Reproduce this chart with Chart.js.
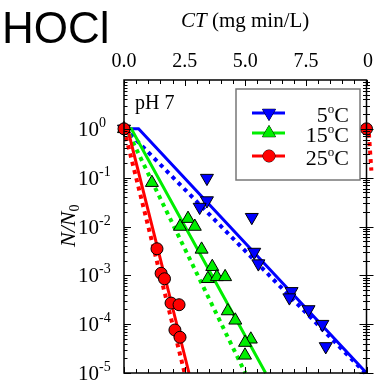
<!DOCTYPE html>
<html>
<head>
<meta charset="utf-8">
<script src="https://cdn.jsdelivr.net/npm/chart.js@4/dist/chart.umd.min.js"></script>
<style>
  body { margin: 0; background: #fff; }
  canvas { display: block; }
</style>
</head>
<body>
<canvas id="myChart" width="375" height="382"></canvas>
<script>
// measured points, CT in mg min/L, survival N/N0
var ct5 = [0, 3.42, 3.42, 3.12, 5.27, 5.37, 5.54, 6.91, 6.82, 7.61, 8.18, 8.32];
var n5 = [1, 9.8e-2, 3.4e-2, 2.5e-2, 1.55e-2, 3.0e-3, 1.74e-3, 4.7e-4, 3.5e-4, 2.0e-4, 1.0e-4, 3.5e-5];

var ct15 = [0, 1.15, 2.31, 2.64, 2.92, 3.20, 3.64, 3.46, 3.83, 4.17, 4.28, 4.59, 5.23, 4.99, 4.99];
var n15 = [1, 7.9e-2, 1.0e-2, 1.45e-2, 1.0e-2, 3.4e-3, 1.5e-3, 8.5e-4, 9.3e-4, 9.3e-4, 1.86e-4, 1.2e-4, 4.9e-5, 4.2e-5, 2.3e-5];

var ct25 = [0, 1.36, 1.53, 1.67, 1.94, 2.27, 2.10, 2.31];
var n25 = [1, 3.5e-3, 1.1e-3, 8.5e-4, 2.7e-4, 2.5e-4, 7.6e-5, 5.4e-5];

// model curves (solid / dotted)
var fit5ct = [0, 0.6, 10], fit5n = [1, 1, 1e-5];
var dot5ct = [0, 0.05, 9.95], dot5n = [1, 1, 1e-5];
var fit15ct = [0, 0.3, 5.84], fit15n = [1, 1, 1e-5];
var dot15ct = [0, 0.1, 5.0], dot15n = [1, 1, 1e-5];
var fit25ct = [0, 0.15, 2.68], fit25n = [1, 1, 1e-5];
var dot25ct = [0, 2.5], dot25n = [1, 1e-5];

// edge of the neighbouring panel
var nextCT = [10], nextN = [1];
var nextDotCT = [10.1, 10.2], nextDotN = [0.8, 0.14];

var xTicks = ["0.0", "2.5", "5.0", "7.5"];
var yExps = [0, -1, -2, -3, -4, -5];
var legendLabels = ["5", "15", "25"];

var BLUE = '#0000ff', GREEN = '#00ee00', RED = '#ff0000';

function pts(xs, ys) {
  return xs.map(function (v, i) { return {x: v, y: ys[i]}; });
}

function markers(label, xs, ys, color, style, rot, r, order) {
  return {
    label: label, data: pts(xs, ys), showLine: false,
    pointStyle: style, rotation: rot, pointRadius: r,
    backgroundColor: color, borderColor: '#000', borderWidth: 1,
    order: order, clip: false
  };
}

function curve(xs, ys, color, dotted, order) {
  return {
    data: pts(xs, ys), showLine: true, pointRadius: 0,
    borderColor: color, borderWidth: dotted ? 4 : 3,
    borderDash: dotted ? [4, 4.5] : [], borderCapStyle: 'butt',
    order: order, clip: false
  };
}

var serif = '"Liberation Serif", "Times New Roman", serif';

var decor = {
  id: 'decor',
  afterDraw: function (chart) {
    var ctx = chart.ctx, a = chart.chartArea;
    var x = chart.scales.x, y = chart.scales.y;
    ctx.save();
    ctx.strokeStyle = '#000';
    ctx.lineWidth = 1.5;
    ctx.strokeRect(a.left, a.top, a.right - a.left, a.bottom - a.top);

    // x ticks (inward, top and bottom)
    ctx.lineWidth = 1;
    ctx.beginPath();
    for (var v = 0; v <= 10.001; v += 0.5) {
      var px = Math.round(x.getPixelForValue(v)) + 0.5;
      var len = (Math.abs(v % 2.5) < 0.01) ? 6 : 4;
      ctx.moveTo(px, a.top); ctx.lineTo(px, a.top + len);
      ctx.moveTo(px, a.bottom); ctx.lineTo(px, a.bottom - len);
    }
    // y ticks (log)
    for (var e = -5; e <= 0; e++) {
      for (var k = 1; k <= 9; k++) {
        var py = Math.round(y.getPixelForValue(k * Math.pow(10, e))) + 0.5;
        var l = k === 1 ? 7 : 3.5;
        ctx.moveTo(a.left, py); ctx.lineTo(a.left + l, py);
        ctx.moveTo(a.right - l, py); ctx.lineTo(a.right + l, py);
      }
    }
    ctx.stroke();

    ctx.fillStyle = '#000';
    // x tick labels on top
    ctx.font = '20px ' + serif;
    ctx.textAlign = 'center';
    ctx.textBaseline = 'alphabetic';
    xTicks.forEach(function (t) {
      ctx.fillText(t, x.getPixelForValue(parseFloat(t)), 67);
    });
    ctx.fillText('0', 368, 67);

    // y tick labels 10^n
    ctx.textAlign = 'left';
    yExps.forEach(function (n) {
      var py = y.getPixelForValue(Math.pow(10, n));
      ctx.font = '21px ' + serif;
      ctx.fillText('10', 78, py + 7);
      var w = ctx.measureText('10').width;
      ctx.font = '14px ' + serif;
      ctx.fillText(String(n), 78 + w, py - 2);
    });

    // x axis title
    ctx.font = 'italic 21px ' + serif;
    ctx.fillText('CT', 181, 27);
    var wct = ctx.measureText('CT').width;
    ctx.font = '21px ' + serif;
    ctx.fillText(' (mg min/L)', 181 + wct, 27);

    // y axis title
    ctx.save();
    ctx.translate(75, 247);
    ctx.rotate(-Math.PI / 2);
    ctx.font = 'italic 22px ' + serif;
    ctx.fillText('N/N', 0, 0);
    var wn = ctx.measureText('N/N').width;
    ctx.font = '14px ' + serif;
    ctx.fillText('0', wn, 4);
    ctx.restore();

    // panel title
    ctx.font = '44px "Liberation Sans", Arial, sans-serif';
    ctx.fillText('HOCl', 2, 43);

    ctx.font = '20px ' + serif;
    ctx.fillText('pH 7', 135, 109);

    // legend box
    ctx.fillStyle = '#fff';
    ctx.fillRect(236, 89, 124, 91);
    ctx.strokeStyle = '#777';
    ctx.lineWidth = 1.5;
    ctx.strokeRect(236, 89, 124, 91);
    var rows = [113, 133, 156];
    var sets = [chart.data.datasets[2], chart.data.datasets[1], chart.data.datasets[0]];
    sets.forEach(function (ds, i) {
      var ry = rows[i];
      ctx.strokeStyle = ds.backgroundColor;
      ctx.lineWidth = 3;
      ctx.beginPath(); ctx.moveTo(252, ry); ctx.lineTo(285, ry); ctx.stroke();
      ctx.fillStyle = ds.backgroundColor;
      ctx.strokeStyle = '#000';
      ctx.lineWidth = 1;
      Chart.helpers.drawPoint(ctx, {pointStyle: ds.pointStyle, radius: ds.pointRadius, rotation: ds.rotation, borderWidth: 1}, 269, ry);
      ctx.fill();
      // label: number, superscript o, C
      ctx.fillStyle = '#000';
      ctx.textAlign = 'right';
      ctx.font = '22px ' + serif;
      var cw = ctx.measureText('C').width;
      ctx.fillText('C', 349, ry + 9);
      ctx.font = '13px ' + serif;
      var ow = ctx.measureText('o').width;
      ctx.fillText('o', 349 - cw, ry);
      ctx.font = '22px ' + serif;
      ctx.fillText(legendLabels[i], 349 - cw - ow, ry + 9);
    });
    ctx.restore();
  }
};

var chart = new Chart(document.getElementById('myChart'), {
  type: 'scatter',
  data: {
    datasets: [
      markers('25°C', ct25, n25, RED, 'circle', 0, 6, 0),
      markers('15°C', ct15, n15, GREEN, 'triangle', 0, 7.5, 1),
      markers('5°C', ct5, n5, BLUE, 'triangle', 180, 7.5, 2),
      markers('next', nextCT, nextN, RED, 'circle', 0, 6, 3),
      curve(fit25ct, fit25n, RED, false, 4),
      curve(dot25ct, dot25n, RED, true, 5),
      curve(fit15ct, fit15n, GREEN, false, 6),
      curve(dot15ct, dot15n, GREEN, true, 7),
      curve(fit5ct, fit5n, BLUE, false, 8),
      curve(dot5ct, dot5n, BLUE, true, 9),
      curve(nextDotCT, nextDotN, RED, true, 10)
    ]
  },
  options: {
    responsive: false,
    animation: false,
    layout: { padding: { left: 124, right: 7, top: 80, bottom: 9 } },
    scales: {
      x: { type: 'linear', min: 0, max: 10, display: false },
      y: { type: 'logarithmic', min: 1e-5, max: 10, display: false }
    },
    plugins: { legend: { display: false }, tooltip: { enabled: false } }
  },
  plugins: [decor]
});
</script>
</body>
</html>
